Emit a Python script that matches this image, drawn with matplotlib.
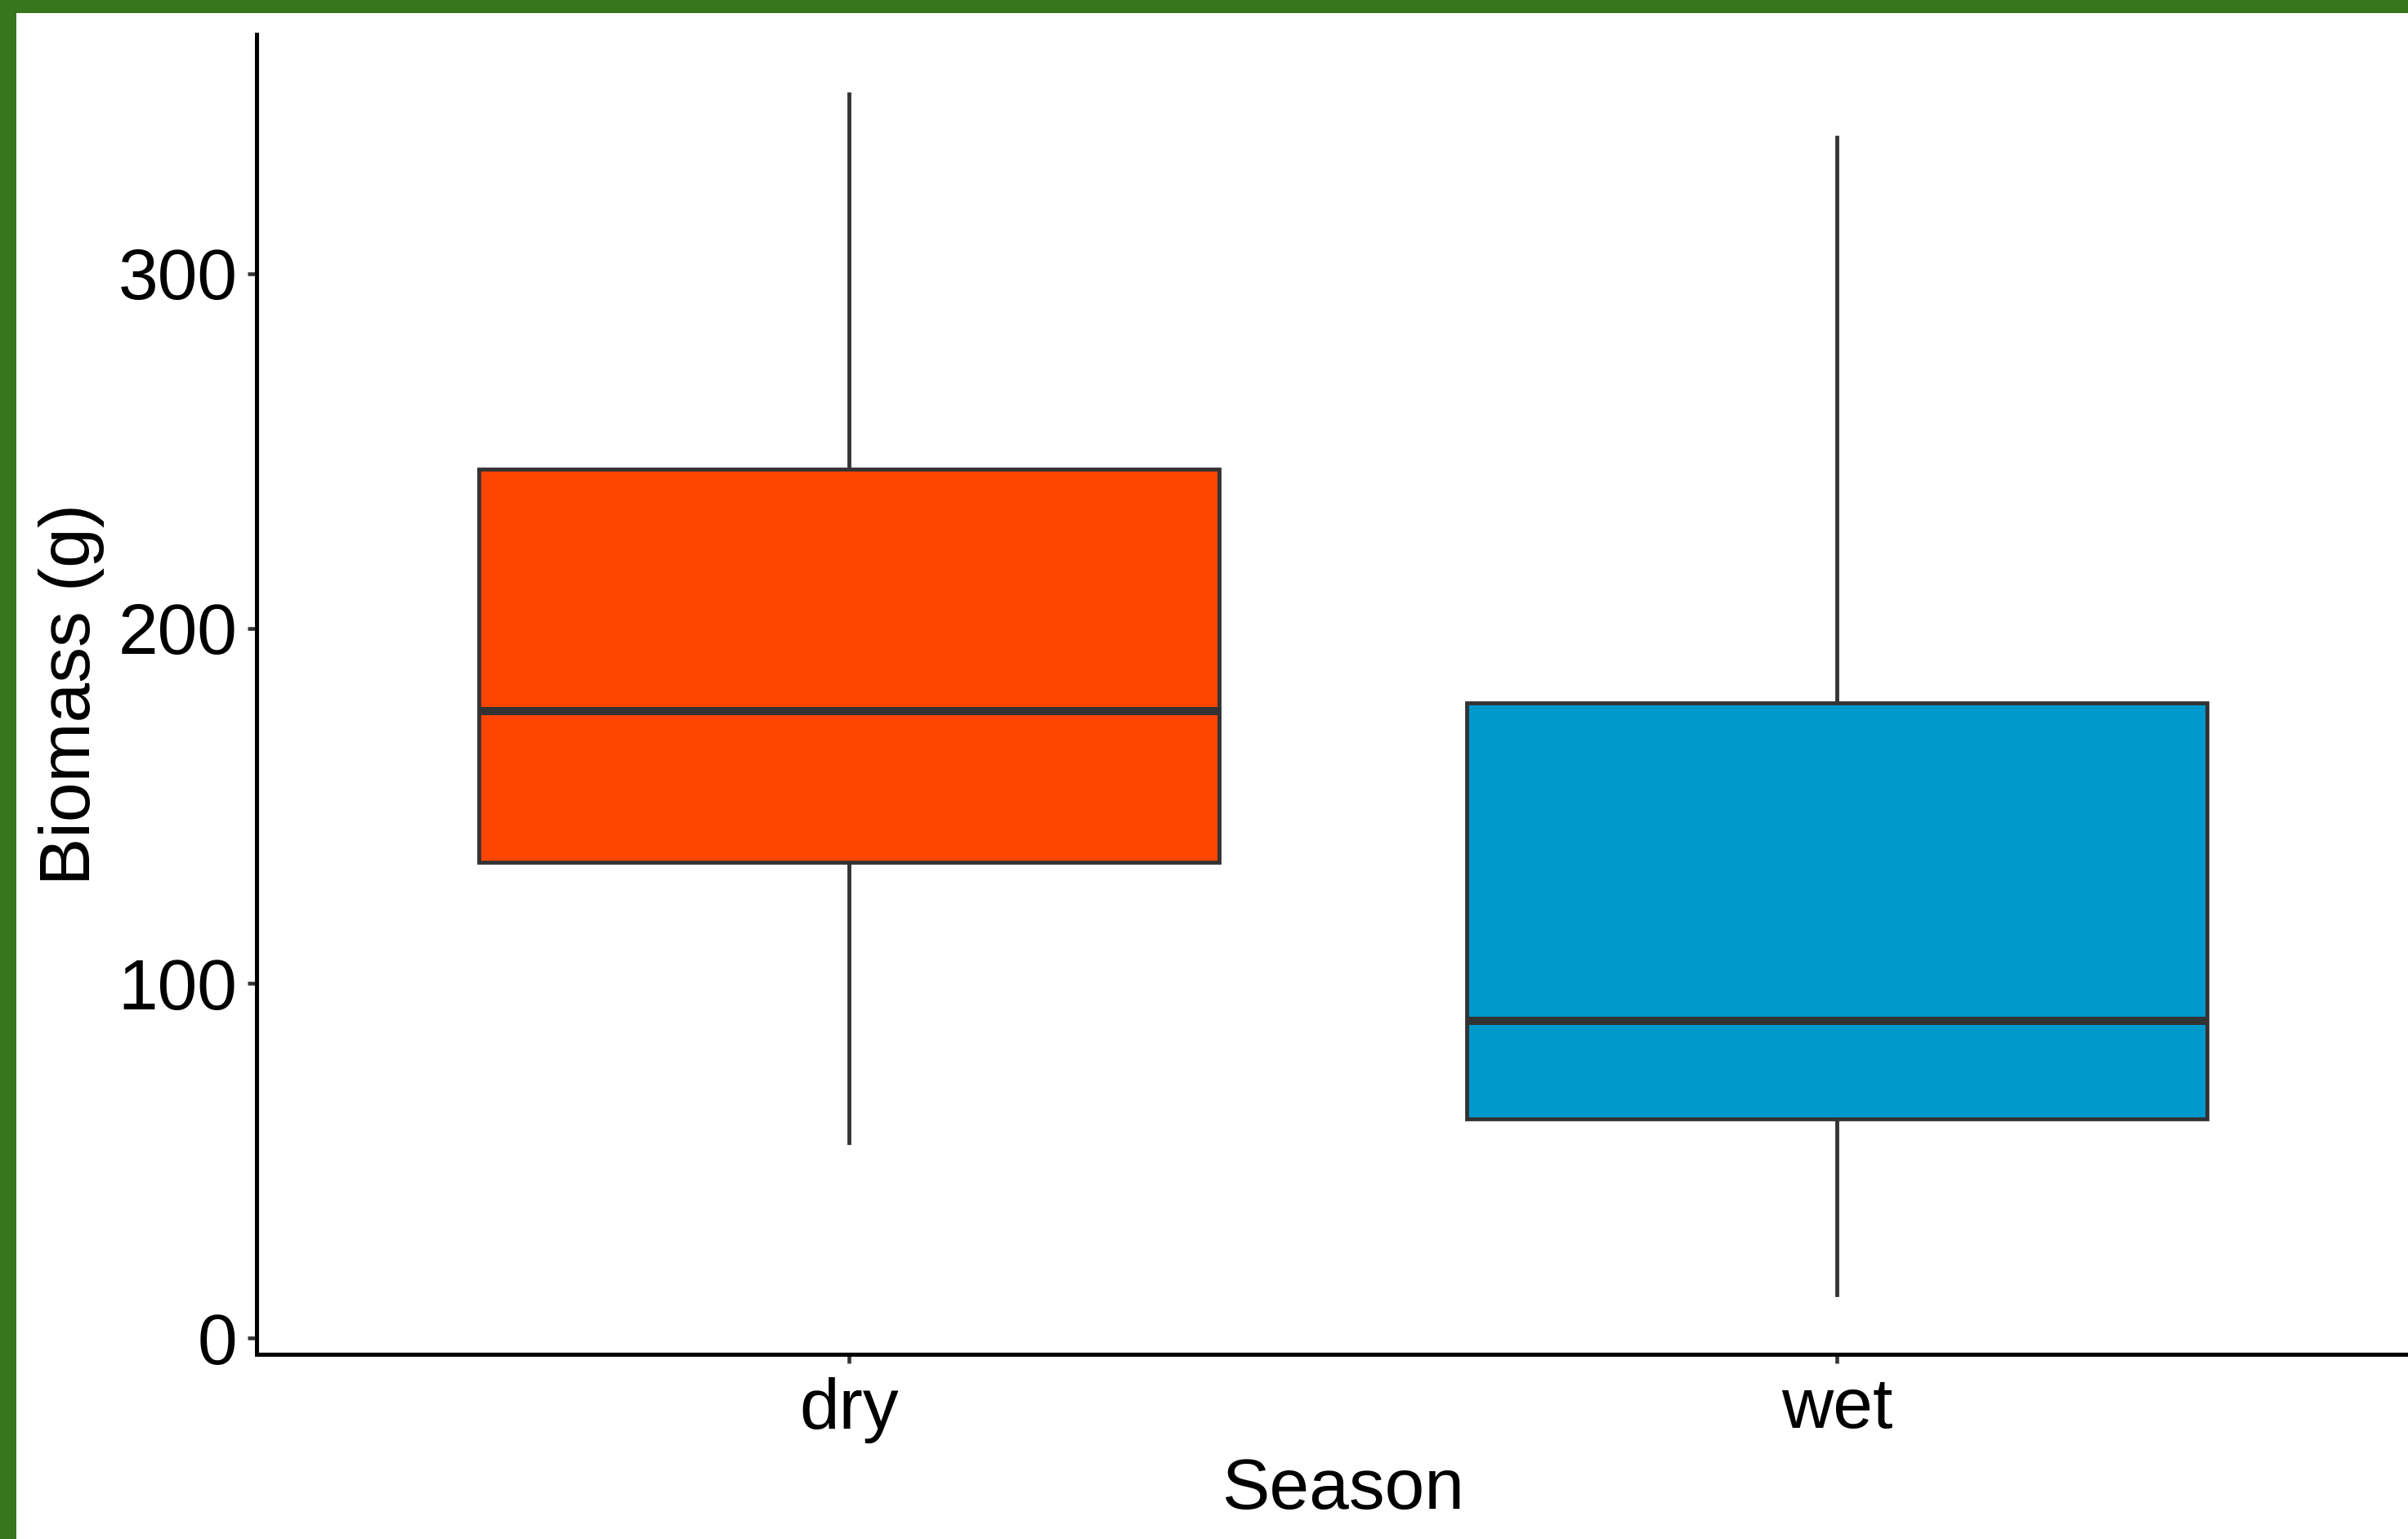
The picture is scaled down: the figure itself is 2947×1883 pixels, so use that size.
import matplotlib
matplotlib.use("Agg")
import matplotlib.pyplot as plt
from matplotlib.patches import Rectangle

# Biomass summary per season (five-number summary used for the boxes)
seasons = ["dry", "wet"]
whisker_low = [55.1, 12.4]
q1 = [134.1, 61.9]
median = [176.7, 89.4]
q3 = [244.8, 179.0]
whisker_high = [350.5, 338.4]
fill_colors = ["#FF4500", "#0099CC"]
y_ticks = [0, 100, 200, 300]

plt.rcParams["font.family"] = ["Liberation Sans", "DejaVu Sans"]

W, H, DPI = 2947, 1883, 300
fig = plt.figure(figsize=(W / DPI, H / DPI), dpi=DPI, facecolor="white")

# Panel geometry in pixels
left_px, right_px, top_px, bottom_px = 314, 2973, 42, 1657
ax = fig.add_axes([left_px / W, (H - bottom_px) / H,
                   (right_px - left_px) / W, (bottom_px - top_px) / H])

stats = []
for i, s in enumerate(seasons):
    stats.append(dict(label=s, whislo=whisker_low[i], q1=q1[i], med=median[i],
                      q3=q3[i], whishi=whisker_high[i], fliers=[]))

edge = "#333333"
lw = 1.15
bp = ax.bxp(stats, positions=[1, 2], widths=0.75, patch_artist=True,
            showcaps=False, showfliers=False,
            boxprops=dict(edgecolor=edge, linewidth=lw),
            whiskerprops=dict(color=edge, linewidth=lw),
            medianprops=dict(color=edge, linewidth=lw * 2.1, solid_capstyle="butt"))
for patch, c in zip(bp["boxes"], fill_colors):
    patch.set_facecolor(c)
    patch.set_zorder(2)
for w in bp["whiskers"]:
    w.set_zorder(1)
for m in bp["medians"]:
    m.set_zorder(3)

# ggplot-like expansion of the ranges
lo, hi = min(whisker_low), max(whisker_high)
pad = 0.05 * (hi - lo)
ax.set_ylim(lo - pad, hi + pad)
ax.set_xlim(0.4, 2.6)

ax.set_yticks(y_ticks)
ax.set_yticklabels([str(t) for t in y_ticks])
ax.set_xticks([1, 2])
ax.set_xticklabels(seasons)

for side in ["top", "right"]:
    ax.spines[side].set_visible(False)
for side in ["left", "bottom"]:
    ax.spines[side].set_color("black")
    ax.spines[side].set_linewidth(1.2)

ax.tick_params(axis="both", which="major", length=2.6, width=1.1, color=edge,
               labelcolor="black")
ax.tick_params(axis="y", labelsize=21, pad=3)
ax.tick_params(axis="x", labelsize=21, pad=4)

ax.set_xlabel("Season", fontsize=21)
ax.set_ylabel("Biomass (g)", fontsize=21)
ax.xaxis.label.set_va("baseline")
ax.xaxis.set_label_coords(0.5, -(1846 - bottom_px) / (bottom_px - top_px))
ax.yaxis.label.set_va("center")
ax.yaxis.set_label_coords(-(left_px - 87) / (right_px - left_px), 0.5)

# Green frame along the top and left edges
green = "#38761D"
fig.patches.append(Rectangle((0, 1 - 16 / H), 1, 16 / H, transform=fig.transFigure,
                             facecolor=green, edgecolor="none", zorder=10))
fig.patches.append(Rectangle((0, 0), 20 / W, 1, transform=fig.transFigure,
                             facecolor=green, edgecolor="none", zorder=10))

fig.savefig("out.png", dpi=DPI, facecolor="white")
